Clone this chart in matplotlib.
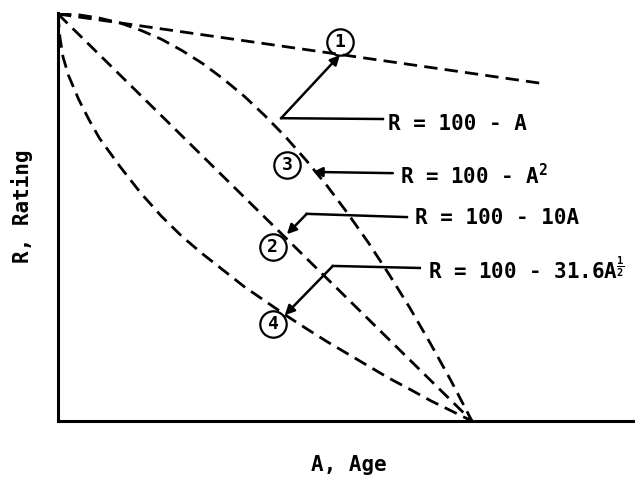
import numpy as np
import matplotlib
matplotlib.use('Agg')
import matplotlib.pyplot as plt

plt.rcParams['font.family'] = ['DejaVu Sans Mono']
plt.rcParams['mathtext.fontset'] = 'custom'
plt.rcParams['mathtext.rm'] = 'DejaVu Sans Mono:bold'
plt.rcParams['mathtext.it'] = 'DejaVu Sans Mono:bold'

# curves (A = age, R = rating)
age_1 = [0, 11.65]
rating_1 = [100, 83]

age_2 = [0, 10]
rating_2 = [100, 0]

age_3 = [0, 0.5, 1, 1.5, 2, 2.5, 3, 3.5, 4, 4.5, 5, 5.5, 6, 6.5, 7, 7.5,
         8, 8.5, 9, 9.5, 10]
rating_3 = [100, 99.8, 99, 97.8, 96, 93.8, 91, 87.8, 84, 79.8, 75, 69.8,
            64, 57.8, 51, 43.8, 36, 27.8, 19, 9.8, 0]

age_4 = [0, 0.05, 0.12, 0.25, 0.5, 0.75, 1, 1.5, 2, 2.5, 3, 3.5, 4, 4.5,
         5, 5.5, 6, 6.5, 7, 7.5, 8, 8.5, 9, 9.5, 10]
rating_4 = [100, 94, 89.5, 85, 79, 74, 69.5, 62.5, 56, 50.3, 45.3, 41, 37,
            33, 29.5, 26, 22.7, 19.5, 16.5, 13.5, 10.5, 7.8, 5, 2.5, 0]

labels = ['R = 100 - A', 'R = 100 - A$^2$', 'R = 100 - 10A',
          'R = 100 - 31.6A$^{\\frac{1}{2}}$']
numbers = ['1', '3', '2', '4']

fig = plt.figure(figsize=(6.35, 4.78), dpi=100)
ax = fig.add_axes([58 / 635, 57 / 478, 577 / 635, 408 / 478])

dash = dict(color='black', lw=2.0, dashes=(4.8, 2.6), dash_capstyle='butt')
ax.plot(age_1, rating_1, **dash)
ax.plot(age_2, rating_2, **dash)
ax.plot(age_3, rating_3, **dash)
ax.plot(age_4, rating_4, **dash)

ax.set_xlim(0, 13.94)
ax.set_ylim(0, 100.25)
ax.set_xticks([])
ax.set_yticks([])
ax.spines['top'].set_visible(False)
ax.spines['right'].set_visible(False)
ax.spines['left'].set_linewidth(2.2)
ax.spines['bottom'].set_linewidth(2.2)

# numbered circles
circles = [(6.81, 93.1), (5.53, 62.9), (5.19, 42.8), (5.19, 23.8)]
for (cx, cy), n in zip(circles, numbers):
    ax.plot(cx, cy, marker='o', ms=19, mfc='none', mec='black', mew=1.6,
            clip_on=False, zorder=3)
    ax.text(cx, cy, n, ha='center', va='center', fontsize=13,
            fontweight='bold', zorder=4)

# leader lines: start, bend, arrow tip
leaders = [
    ((7.85, 74.2), (5.39, 74.4), (6.81, 89.9)),
    ((8.09, 60.9), (8.09, 60.9), (6.16, 61.2)),
    ((8.43, 50.1), (6.01, 50.9), (5.53, 45.9)),
    ((8.74, 37.6), (6.64, 38.1), (5.48, 26.0)),
]
text_pos = [(7.97, 73.0), (8.26, 60.4), (8.62, 49.9), (8.94, 37.1)]

for (start, bend, tip), (tx, ty), lab in zip(leaders, text_pos, labels):
    ax.plot([start[0], bend[0]], [start[1], bend[1]], color='black', lw=1.8)
    ax.annotate('', xy=tip, xytext=bend,
                arrowprops=dict(arrowstyle='-|>', color='black', lw=1.8,
                                mutation_scale=14, shrinkA=0, shrinkB=0))
    ax.text(tx, ty, lab, ha='left', va='center', fontsize=15,
            fontweight='bold')

fig.text(22 / 635, 1 - 206 / 478, 'R, Rating', rotation=90, ha='center',
         va='center', fontsize=15, fontweight='bold')
fig.text(349 / 635, 1 - 465 / 478, 'A, Age', ha='center', va='center',
         fontsize=15, fontweight='bold')

fig.savefig('out.png', dpi=100)
